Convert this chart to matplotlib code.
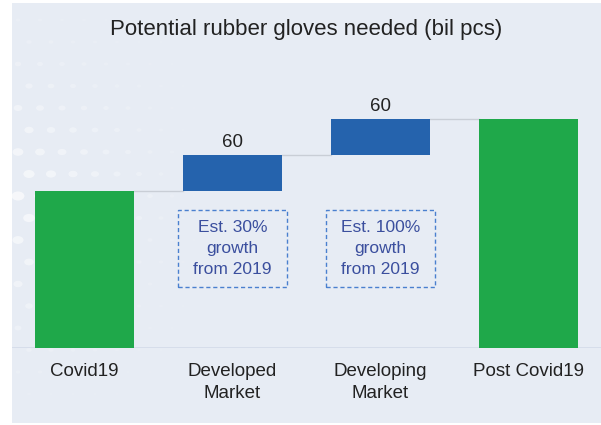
import matplotlib.pyplot as plt
from matplotlib.patches import Rectangle
import numpy as np

plt.rcParams['font.family'] = ['Liberation Sans', 'DejaVu Sans']

# data
categories = ['Covid19', 'Developed\nMarket', 'Developing\nMarket', 'Post Covid19']
base_value = 262
increments = [60, 60]
notes = ['Est. 30%\ngrowth\nfrom 2019', 'Est. 100%\ngrowth\nfrom 2019']
total_value = base_value + sum(increments)

green = '#1fa84a'
blue = '#2563ad'
bg = '#e7ecf4'

W, H = 601, 425
fig = plt.figure(figsize=(W / 100, H / 100), dpi=100)
fig.patch.set_facecolor('white')

# background panel
fig.patches.append(Rectangle((12 / W, 2 / H), 1 - 12 / W, 1 - 5 / H,
                             transform=fig.transFigure, facecolor=bg,
                             edgecolor='none', zorder=-10))

# faint decorative dots on the left (fade out away from the left edge)
for r in range(18):
    for c in range(10):
        px = 18 + c * 22 + (r % 2) * 11
        py = 20 + r * 22
        fade = max(0.0, 1 - px / 220) * max(0.0, 1 - abs(py - 200) / 230)
        if fade <= 0.05:
            continue
        fig.patches.append(plt.Circle((px / W, 1 - py / H), (1.0 + 6 * fade) / W,
                                      transform=fig.transFigure, facecolor='white',
                                      alpha=0.7 * fade, edgecolor='none', zorder=-9))

ax = fig.add_axes([12 / W, (H - 348) / H, 1 - 12 / W, 308 / H])
ax.patch.set_alpha(0)
ax.set_xlim(-0.49, 3.49)
ax.set_ylim(0, 308 / 0.6)

x = np.arange(len(categories))
width = 0.67

bottoms = [0]
heights = [base_value]
colors = [green]
level = base_value
for inc in increments:
    bottoms.append(level)
    heights.append(inc)
    colors.append(blue)
    level += inc
bottoms.append(0)
heights.append(total_value)
colors.append(green)

ax.bar(x, heights, width, bottom=bottoms, color=colors, zorder=3)

# connector lines
tops = [b + h for b, h in zip(bottoms, heights)]
for i in range(len(x) - 1):
    ax.plot([x[i] + width / 2, x[i + 1] - width / 2], [tops[i], tops[i]],
            color='#c9ced6', lw=1, zorder=2)

# value labels on increments
for i, inc in enumerate(increments, start=1):
    ax.text(x[i], tops[i] + 6, str(inc), ha='center', va='bottom',
            fontsize=13.5, color='#222222')

# annotation boxes
box_w, box_h, box_y = 0.73, 128, 166
for i, note in enumerate(notes, start=1):
    ax.add_patch(Rectangle((x[i] - box_w / 2, box_y - box_h / 2), box_w, box_h,
                           facecolor='none', edgecolor='#4a80cf',
                           linestyle=(0, (3, 2)), lw=1, zorder=4))
    ax.text(x[i], box_y - 1, note, ha='center', va='center', fontsize=12.5,
            color='#3b4f9e', linespacing=1.5, zorder=4)

ax.axhline(0, color='#d3dbe8', lw=1.2, zorder=1)

ax.set_xticks(x)
ax.set_xticklabels(categories, fontsize=13.5, color='#222222', linespacing=1.35, va='top')
ax.tick_params(axis='x', length=0, pad=11)
ax.set_yticks([])
for s in ax.spines.values():
    s.set_visible(False)

fig.text(306 / W, 1 - 30 / H, 'Potential rubber gloves needed (bil pcs)',
         ha='center', va='center', fontsize=16, color='#222222')

fig.savefig('out.png', dpi=100, facecolor=fig.get_facecolor())
